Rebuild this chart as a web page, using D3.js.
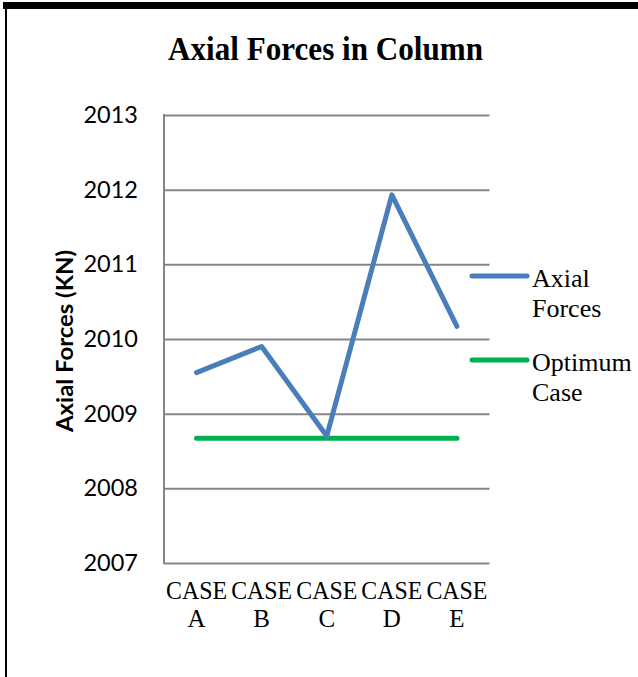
<!DOCTYPE html>
<html>
<head>
<meta charset="utf-8">
<script src="https://cdn.jsdelivr.net/npm/d3@7"></script>
<style>
  html, body { margin: 0; padding: 0; background: #fff; }
  svg { display: block; }
</style>
</head>
<body>
<div id="chart"></div>
<script>
// ---- data ----
const categories = ["CASE A", "CASE B", "CASE C", "CASE D", "CASE E"];
const axialForces = [2009.55, 2009.90, 2008.70, 2011.93, 2010.17];
const optimumCase = [2008.67, 2008.67, 2008.67, 2008.67, 2008.67];
const yTicks = [2007, 2008, 2009, 2010, 2011, 2012, 2013];
const seriesNames = ["Axial Forces", "Optimum Case"];
const seriesColors = ["#4A7EBB", "#00B050"];

// ---- layout ----
const W = 638, H = 677;
const svg = d3.select("#chart").append("svg").attr("width", W).attr("height", H);

svg.append("rect").attr("x", 0).attr("y", 0).attr("width", W).attr("height", H).attr("fill", "#fff");
// frame
svg.append("rect").attr("x", 3).attr("y", 2).attr("width", W - 3).attr("height", 7).attr("fill", "#000");
svg.append("rect").attr("x", 5).attr("y", 2).attr("width", 2).attr("height", H).attr("fill", "#000");

const plot = { left: 164, right: 489.5, top: 115, bottom: 563 };

const x = d3.scaleBand().domain(categories).range([plot.left, plot.right]);
const y = d3.scaleLinear().domain([2007, 2013]).range([plot.bottom, plot.top]);
const cx = d => x(d) + x.bandwidth() / 2;

// title
svg.append("text")
  .attr("x", 325.5).attr("y", 59.5)
  .attr("text-anchor", "middle")
  .attr("font-family", "'Liberation Serif', 'Times New Roman', serif")
  .attr("font-weight", "bold")
  .attr("font-size", 34)
  .attr("textLength", 315).attr("lengthAdjust", "spacingAndGlyphs")
  .attr("fill", "#000")
  .text("Axial Forces in Column");

// gridlines
const grid = d3.axisLeft(y).tickValues(yTicks).tickSize(-(plot.right - plot.left)).tickFormat("");
svg.append("g")
  .attr("transform", `translate(${plot.left},0)`)
  .call(grid)
  .call(g => g.select(".domain").remove())
  .call(g => g.selectAll("line").attr("stroke", "#868686").attr("stroke-width", 2));

// y axis line
svg.append("line")
  .attr("x1", plot.left).attr("x2", plot.left)
  .attr("y1", plot.top - 1).attr("y2", plot.bottom + 1)
  .attr("stroke", "#868686").attr("stroke-width", 2);

// y tick labels
const yAxis = d3.axisLeft(y).tickValues(yTicks).tickSize(0).tickPadding(26).tickFormat(d3.format("d"));
svg.append("g")
  .attr("transform", `translate(${plot.left},0)`)
  .call(yAxis)
  .call(g => g.select(".domain").remove())
  .call(g => g.selectAll("text")
    .attr("font-family", "Lato, 'Open Sans', sans-serif")
    .attr("font-size", 23.5)
    .attr("fill", "#000"));

// x axis labels
const xAxis = d3.axisBottom(x).tickSize(0).tickFormat("");
const xg = svg.append("g").attr("transform", `translate(0,${plot.bottom})`).call(xAxis);
xg.select(".domain").remove();
xg.selectAll(".tick").each(function(d) {
  const parts = d.split(" ");
  const t = d3.select(this).append("text")
    .attr("text-anchor", "middle")
    .attr("font-family", "'Liberation Serif', 'Times New Roman', serif")
    .attr("font-size", 25)
    .attr("fill", "#000");
  t.append("tspan").attr("x", 0).attr("y", 36).attr("textLength", 61).attr("lengthAdjust", "spacingAndGlyphs").text(parts[0]);
  t.append("tspan").attr("x", 0).attr("y", 63.5).text(parts[1]);
});

// y axis title
svg.append("text")
  .attr("transform", "translate(73,341) rotate(-90)")
  .attr("text-anchor", "middle")
  .attr("font-family", "Lato, 'Open Sans', sans-serif")
  .attr("font-weight", "bold")
  .attr("font-size", 22)
  .attr("textLength", 182).attr("lengthAdjust", "spacingAndGlyphs")
  .attr("fill", "#000")
  .text("Axial Forces (KN)");

// lines
const line = d3.line().x((d, i) => cx(categories[i])).y(d => y(d));
const allSeries = [axialForces, optimumCase];
// draw optimum first, axial on top
[1, 0].forEach(k => {
  svg.append("path")
    .datum(allSeries[k])
    .attr("d", line)
    .attr("fill", "none")
    .attr("stroke", seriesColors[k])
    .attr("stroke-width", 5)
    .attr("stroke-linecap", "round")
    .attr("stroke-linejoin", "round");
});

// legend
const legendY = [276, 360];
seriesNames.forEach((name, k) => {
  const g = svg.append("g");
  g.append("line")
    .attr("x1", 472).attr("x2", 527)
    .attr("y1", legendY[k]).attr("y2", legendY[k])
    .attr("stroke", seriesColors[k]).attr("stroke-width", 5)
    .attr("stroke-linecap", "round");
  const parts = name.split(" ");
  const t = g.append("text")
    .attr("font-family", "'Liberation Serif', 'Times New Roman', serif")
    .attr("font-size", 26)
    .attr("fill", "#000");
  parts.forEach((p, j) => {
    t.append("tspan").attr("x", 532).attr("y", legendY[k] + 10.5 + j * 30.5).text(p);
  });
});
</script>
</body>
</html>
